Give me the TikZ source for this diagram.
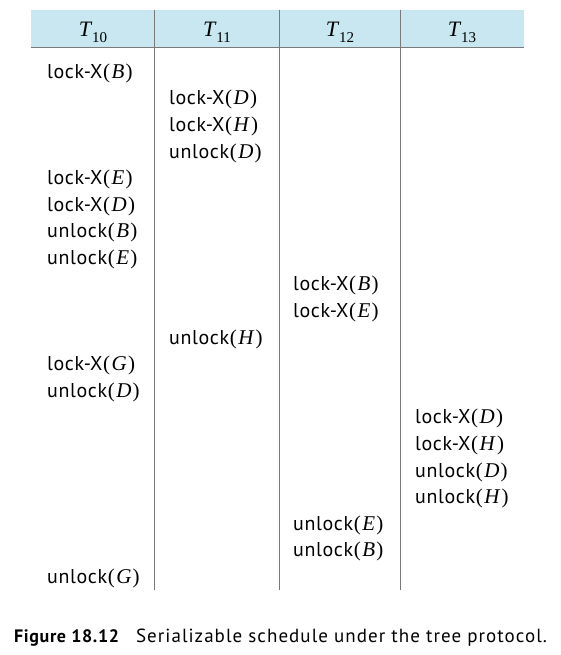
\documentclass[tikz,border=0pt]{standalone}
\usepackage{fontspec}
\setmainfont{PT Sans}
\newfontfamily\bodyf[LetterSpace=3]{PT Sans}
\newfontfamily\capf[LetterSpace=5.5]{PT Sans}
\newfontfamily\capbf[LetterSpace=3.5]{PT Sans Bold}
\newfontfamily\tim{Liberation Serif}
\definecolor{hdr}{HTML}{C8E7F0}
\definecolor{rule}{HTML}{7A7A7A}
\newcommand{\vv}[1]{{\tim\fontsize{21}{21}\selectfont\kern0.8pt(\kern1.5pt\textit{#1}\/\kern1.2pt)}}
\newcommand{\tsub}[1]{{\tim\itshape T}\kern1pt\raisebox{-6pt}{\tim\fontsize{15}{15}\selectfont #1}}
\begin{document}
\begin{tikzpicture}[x=1pt,y=-1pt,
  op/.style={anchor=base west,inner sep=0pt,font=\bodyf\fontsize{20}{20}\selectfont},
  hd/.style={anchor=base,inner sep=0pt,font=\fontsize{22}{22}\selectfont},
  grid/.style={draw=rule,line width=1pt}]
\useasboundingbox (0,0) rectangle (561,655);
\fill[hdr] (31,10) rectangle (524,48);
\coordinate (hl) at (31,48);
\coordinate (hr) at (524,48);
\draw[grid] (hl) -- (hr);
\foreach \x/\n in {154.5/a,279/b,400/c}{
  \coordinate (\n t) at (\x,10);
  \coordinate (\n b) at (\x,590);
  \draw[grid] (\n t) -- (\n b);
}
\node[hd] (h10) at (93,37) {\tsub{10}};
\node[hd] (h11) at (217,37) {\tsub{11}};
\node[hd] (h12) at (340,37) {\tsub{12}};
\node[hd] (h13) at (462,37) {\tsub{13}};
\def\ca{47}\def\cb{169}\def\cc{293}\def\cd{415}
\def\rr#1{78.3+(#1-1)*26.58}
\node[op] (r1) at (\ca,{\rr{1}}) {lock-X\vv{B}};
\node[op] (r2) at (\cb,{\rr{2}}) {lock-X\vv{D}};
\node[op] (r3) at (\cb,{\rr{3}}) {lock-X\vv{H}};
\node[op] (r4) at (\cb,{\rr{4}}) {unlock\vv{D}};
\node[op] (r5) at (\ca,{\rr{5}}) {lock-X\vv{E}};
\node[op] (r6) at (\ca,{\rr{6}}) {lock-X\vv{D}};
\node[op] (r7) at (\ca,{\rr{7}}) {unlock\vv{B}};
\node[op] (r8) at (\ca,{\rr{8}}) {unlock\vv{E}};
\node[op] (r9) at (\cc,{\rr{9}}) {lock-X\vv{B}};
\node[op] (r10) at (\cc,{\rr{10}}) {lock-X\vv{E}};
\node[op] (r11) at (\cb,{\rr{11}}) {unlock\vv{H}};
\node[op] (r12) at (\ca,{\rr{12}}) {lock-X\vv{G}};
\node[op] (r13) at (\ca,{\rr{13}}) {unlock\vv{D}};
\node[op] (r14) at (\cd,{\rr{14}}) {lock-X\vv{D}};
\node[op] (r15) at (\cd,{\rr{15}}) {lock-X\vv{H}};
\node[op] (r16) at (\cd,{\rr{16}}) {unlock\vv{D}};
\node[op] (r17) at (\cd,{\rr{17}}) {unlock\vv{H}};
\node[op] (r18) at (\cc,{\rr{18}}) {unlock\vv{E}};
\node[op] (r19) at (\cc,{\rr{19}}) {unlock\vv{B}};
\node[op] (r20) at (\ca,{\rr{20}}) {unlock\vv{G}};
\node[anchor=base west,inner sep=0pt] (cap) at (14,642) {{\capbf\fontsize{18}{18}\selectfont Figure 18.12}\hspace{17pt}{\capf\fontsize{19}{19}\selectfont Serializable schedule under the tree protocol.}};
\end{tikzpicture}
\end{document}
